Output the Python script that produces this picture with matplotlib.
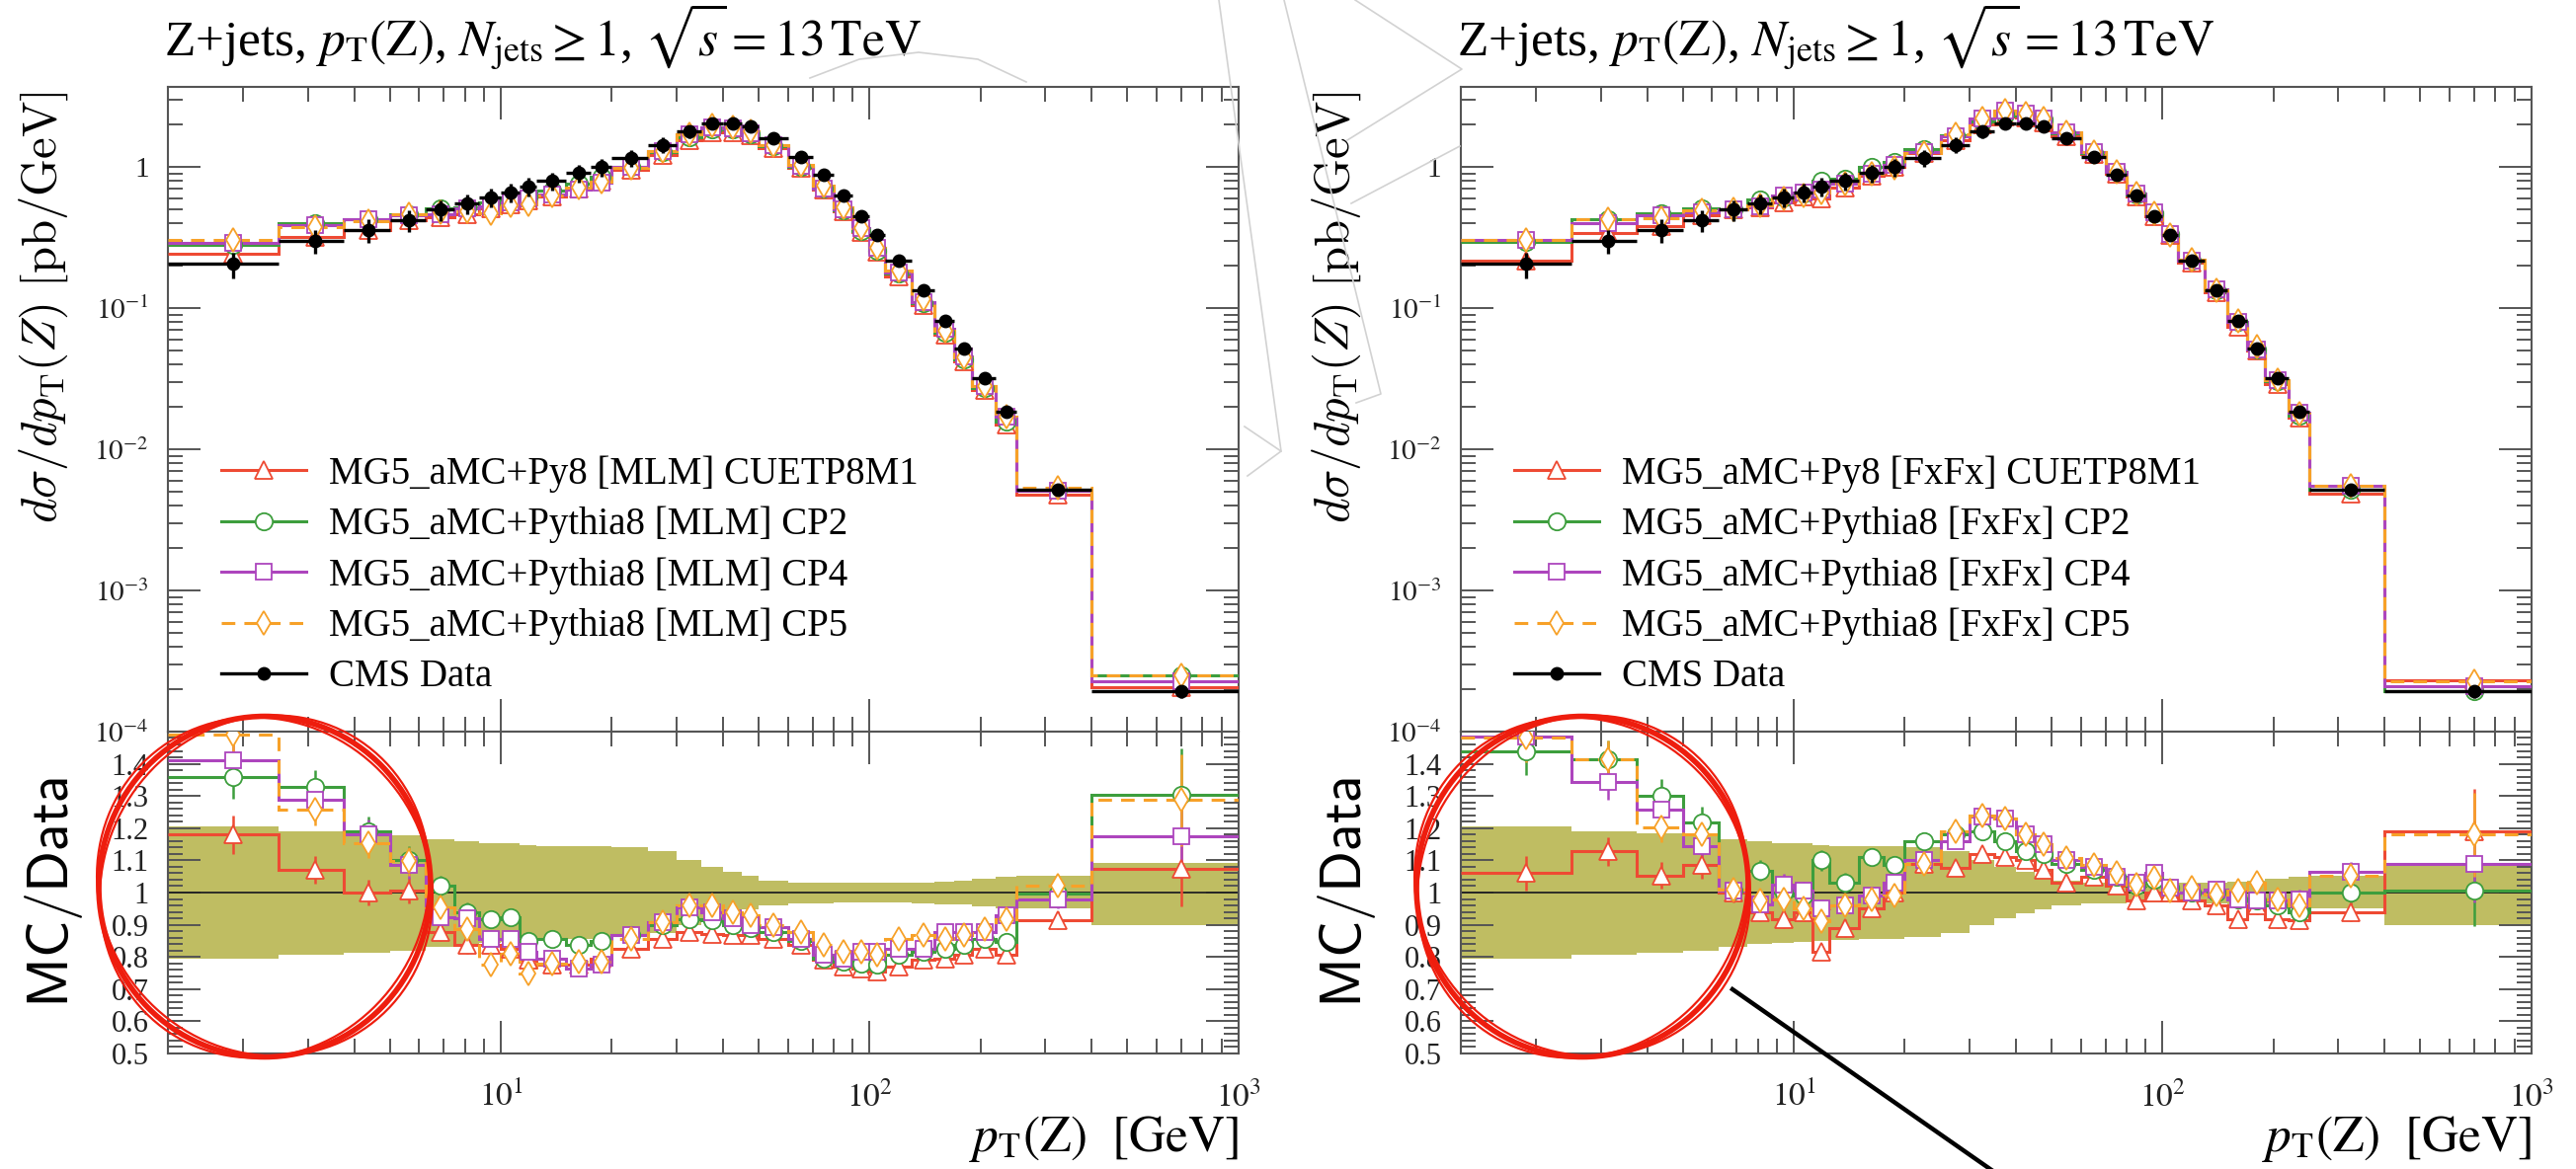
import numpy as np
import matplotlib
matplotlib.use("Agg")
import matplotlib.pyplot as plt
from matplotlib.lines import Line2D
from matplotlib.patches import Ellipse
from matplotlib.ticker import LogLocator, MultipleLocator, NullFormatter

plt.rcParams['font.family'] = ['Liberation Serif', 'DejaVu Serif']
plt.rcParams['mathtext.fontset'] = 'stix'

# pT(Z) binning [GeV]
edges = [1.25, 2.5, 3.75, 5.0, 6.25, 7.5, 8.75, 10.0, 11.25, 12.5, 15.0,
         17.5, 20.0, 25.0, 30.0, 35.0, 40.0, 45.0, 50.0, 60.0, 70.0, 80.0,
         90.0, 100.0, 110.0, 130.0, 150.0, 170.0, 190.0, 220.0, 250.0,
         400.0, 1000.0]

# CMS data, dsigma/dpT [pb/GeV]
cms_data = [0.206, 0.30, 0.36, 0.42, 0.50, 0.55, 0.61, 0.66, 0.73, 0.80,
            0.91, 1.0, 1.16, 1.43, 1.78, 2.04, 2.04, 1.93, 1.60, 1.18,
            0.88, 0.63, 0.45, 0.33, 0.217, 0.134, 0.081, 0.052, 0.0318,
            0.0185, 0.0052, 0.000193]

# data uncertainty band (ratio units)
band_up = [1.205, 1.19, 1.185, 1.178, 1.165, 1.158, 1.152, 1.152, 1.147,
           1.145, 1.145, 1.143, 1.14, 1.13, 1.10, 1.08, 1.063, 1.052, 1.038,
           1.032, 1.03, 1.03, 1.03, 1.03, 1.03, 1.032, 1.035, 1.038, 1.042,
           1.05, 1.052, 1.093]
band_lo = [0.795, 0.808, 0.812, 0.82, 0.832, 0.84, 0.845, 0.848, 0.85,
           0.852, 0.855, 0.857, 0.862, 0.875, 0.898, 0.92, 0.937, 0.948,
           0.96, 0.965, 0.967, 0.968, 0.968, 0.968, 0.968, 0.966, 0.964,
           0.962, 0.958, 0.952, 0.95, 0.898]

# relative MC statistical uncertainty
mc_stat = [0.05, 0.04, 0.04, 0.04, 0.03, 0.03, 0.03, 0.03, 0.03, 0.03,
           0.02, 0.02, 0.02, 0.02, 0.02, 0.02, 0.02, 0.02, 0.02, 0.02,
           0.02, 0.02, 0.02, 0.02, 0.02, 0.02, 0.02, 0.03, 0.03, 0.03,
           0.03, 0.11]

# MC / data, MLM merging
mlm_cuetp8m1 = [1.18, 1.07, 1.00, 1.005, 0.877, 0.836, 0.836, 0.826, 0.79,
                0.775, 0.775, 0.795, 0.826, 0.857, 0.877, 0.87, 0.867,
                0.867, 0.857, 0.836, 0.79, 0.77, 0.765, 0.755, 0.77, 0.79,
                0.795, 0.806, 0.826, 0.806, 0.913, 1.074]
mlm_cp2 = [1.358, 1.327, 1.19, 1.10, 1.02, 0.94, 0.918, 0.923, 0.85, 0.857,
           0.836, 0.85, 0.867, 0.898, 0.918, 0.913, 0.90, 0.89, 0.877, 0.85,
           0.795, 0.785, 0.78, 0.775, 0.806, 0.816, 0.826, 0.836, 0.857,
           0.847, 0.998, 1.305]
mlm_cp4 = [1.41, 1.287, 1.18, 1.087, 0.923, 0.92, 0.857, 0.857, 0.816,
           0.795, 0.765, 0.775, 0.867, 0.908, 0.954, 0.94, 0.92, 0.90,
           0.893, 0.857, 0.806, 0.795, 0.816, 0.816, 0.826, 0.826, 0.877,
           0.877, 0.877, 0.928, 0.98, 1.174]
mlm_cp5 = [1.49, 1.258, 1.153, 1.097, 0.954, 0.887, 0.775, 0.81, 0.75, 0.78,
           0.785, 0.785, 0.857, 0.908, 0.96, 0.96, 0.94, 0.93, 0.898, 0.877,
           0.836, 0.816, 0.816, 0.806, 0.857, 0.867, 0.857, 0.867, 0.887,
           0.918, 1.02, 1.287]

# MC / data, FxFx merging
fxfx_cuetp8m1 = [1.06, 1.128, 1.053, 1.087, 1.0, 0.939, 0.918, 0.94, 0.816,
                 0.89, 0.95, 1.0, 1.09, 1.077, 1.12, 1.11, 1.10, 1.07, 1.03,
                 1.05, 1.02, 0.975, 1.0, 1.0, 0.975, 0.96, 0.918, 0.96,
                 0.918, 0.913, 0.94, 1.19]
fxfx_cp2 = [1.437, 1.415, 1.30, 1.217, 1.005, 1.068, 1.0, 0.99, 1.10, 1.03,
            1.11, 1.085, 1.16, 1.18, 1.19, 1.16, 1.13, 1.12, 1.09, 1.07,
            1.05, 1.02, 1.04, 1.015, 1.0, 1.0, 0.98, 0.975, 0.96, 0.94, 1.0,
            1.005]
fxfx_cp4 = [1.483, 1.343, 1.258, 1.143, 1.005, 0.964, 1.026, 1.005, 0.95,
            0.96, 0.99, 1.03, 1.10, 1.16, 1.237, 1.23, 1.18, 1.15, 1.10,
            1.08, 1.05, 1.03, 1.06, 1.015, 1.0, 1.01, 0.98, 0.975, 0.975,
            0.98, 1.063, 1.09]
fxfx_cp5 = [1.48, 1.415, 1.203, 1.18, 1.01, 0.974, 0.98, 0.95, 0.91, 0.96,
            0.98, 0.99, 1.09, 1.19, 1.24, 1.23, 1.18, 1.15, 1.107, 1.087,
            1.06, 1.026, 1.046, 1.005, 1.015, 0.995, 1.005, 1.03, 0.98, 0.96,
            1.053, 1.18]

mlm_labels = ["MG5_aMC+Py8 [MLM] CUETP8M1", "MG5_aMC+Pythia8 [MLM] CP2",
              "MG5_aMC+Pythia8 [MLM] CP4", "MG5_aMC+Pythia8 [MLM] CP5"]
fxfx_labels = ["MG5_aMC+Py8 [FxFx] CUETP8M1", "MG5_aMC+Pythia8 [FxFx] CP2",
               "MG5_aMC+Pythia8 [FxFx] CP4", "MG5_aMC+Pythia8 [FxFx] CP5"]
data_label = "CMS Data"

title = (r"Z+jets, $p_{\mathrm{T}}(\mathrm{Z})$, $N_{\mathrm{jets}} \geq 1$, "
         r"$\sqrt{s}=13\,\mathrm{TeV}$")

x_ticks = [10, 100, 1000]
x_ticklabels = [r"$10^{1}$", r"$10^{2}$", r"$10^{3}$"]
y_ticks = [1e-4, 1e-3, 1e-2, 1e-1, 1]
y_ticklabels = [r"$10^{-4}$", r"$10^{-3}$", r"$10^{-2}$", r"$10^{-1}$", "1"]
r_ticks = [0.5, 0.6, 0.7, 0.8, 0.9, 1.0, 1.1, 1.2, 1.3, 1.4]
r_ticklabels = ["0.5", "0.6", "0.7", "0.8", "0.9", "1", "1.1", "1.2", "1.3",
                "1.4"]

colors = ['#ee4a33', '#3d9e3d', '#ad45bd', '#f7a128']
markers = ['^', 'o', 's', 'd']
msizes = [13.5, 12.5, 11.5, 12]
lstyles = ['-', '-', '-', (0, (4.5, 3))]
band_color = '#bfbd62'
axis_grey = '#555555'

W, H = 2608, 1184


def style_axes(ax):
    ax.set_xscale('log')
    ax.set_xlim(edges[0], edges[-1])
    ax.tick_params(which='both', direction='in', top=True, right=True,
                   color=axis_grey, width=1.4, labelcolor='#222222')
    ax.tick_params(which='major', length=24)
    ax.tick_params(which='minor', length=11)
    ax.xaxis.set_minor_locator(LogLocator(base=10, subs=np.arange(2, 10)))
    ax.xaxis.set_minor_formatter(NullFormatter())
    for s in ax.spines.values():
        s.set_color(axis_grey)
        s.set_linewidth(1.5)


def draw_panel(x0, ratios, labels):
    ax_top = fig.add_axes([x0, 0.3742, 0.4155, 0.5515])
    ax_rat = fig.add_axes([x0, 0.0988, 0.4155, 0.2754])
    for ax in (ax_top, ax_rat):
        style_axes(ax)

    lo = np.array(edges[:-1])
    hi = np.array(edges[1:])
    centers = 0.5 * (lo + hi)
    data = np.array(cms_data)
    up = np.array(band_up)
    dn = np.array(band_lo)
    err = np.array(mc_stat)

    ax_rat.stairs(up, edges, baseline=dn, fill=True, color=band_color,
                  lw=0, zorder=1)
    ax_rat.axhline(1.0, color='#222222', lw=1.3, zorder=2)

    handles = []
    for r, c, m, ms, ls in zip(ratios, colors, markers, msizes, lstyles):
        r = np.array(r)
        ax_top.stairs(r * data, edges, baseline=None, color=c, lw=2.2,
                      linestyle=ls, zorder=3)
        ax_top.plot(centers, r * data, ls='none', marker=m, ms=ms, mfc='white',
                    mec=c, mew=1.3, zorder=4)
        ax_rat.stairs(r, edges, baseline=None, color=c, lw=2.2,
                      linestyle=ls, zorder=3)
        ax_rat.errorbar(centers, r, yerr=r * err, fmt=m, ms=ms, mfc='white',
                        mec=c, mew=1.3, ecolor=c, elinewidth=1.8, capsize=0,
                        zorder=4)
        handles.append(Line2D([], [], color=c, lw=2.2, ls=ls, marker=m, ms=ms,
                              mfc='white', mec=c, mew=1.3))

    ax_top.errorbar(centers, data, xerr=[centers - lo, hi - centers],
                    yerr=[data * (1 - dn), data * (up - 1)], fmt='o',
                    color='black', ms=9, lw=2.4, capsize=0, zorder=6)
    handles.append(Line2D([], [], color='black', lw=2.4, marker='o', ms=9))

    ax_top.set_yscale('log')
    ax_top.set_ylim(1e-4, 3.7)
    ax_top.set_yticks(y_ticks, y_ticklabels)
    ax_top.yaxis.set_minor_locator(LogLocator(base=10, subs=np.arange(2, 10)))
    ax_top.yaxis.set_minor_formatter(NullFormatter())
    ax_top.set_xticks(x_ticks)
    ax_top.tick_params(labelbottom=False, labelsize=21, pad=14)

    ax_rat.set_ylim(0.5, 1.5)
    ax_rat.set_yticks(r_ticks, r_ticklabels)
    ax_rat.yaxis.set_minor_locator(MultipleLocator(0.02))
    ax_rat.set_xticks(x_ticks, x_ticklabels)
    ax_rat.tick_params(axis='y', labelsize=22, pad=14)
    ax_rat.tick_params(axis='x', labelsize=24, pad=20)

    ax_top.text(-0.004, 1.047, title, transform=ax_top.transAxes,
                ha='left', va='baseline', fontsize=37)
    ax_top.text(-0.116, 0.994, r"$d\sigma/dp_{\mathrm{T}}(Z)\ [\mathrm{pb/GeV}]$",
                transform=ax_top.transAxes, rotation=90, ha='center',
                va='top', fontsize=35, math_fontfamily='cm')
    ax_rat.text(-0.107, 0.5, r"$\mathsf{MC/Data}$", transform=ax_rat.transAxes,
                rotation=90, ha='center', va='center', fontsize=42,
                math_fontfamily='cm')
    ax_rat.text(1.0, -0.305, r"$p_{\mathrm{T}}(\mathrm{Z})\ \ [\mathrm{GeV}]$",
                transform=ax_rat.transAxes, ha='right', va='baseline',
                fontsize=37)

    ax_top.legend(handles, labels + [data_label], loc='upper left',
                  bbox_to_anchor=(0.05, 0.428), frameon=False, fontsize=28,
                  handlelength=2.2, handletextpad=0.6, labelspacing=0.36,
                  borderpad=0, borderaxespad=0, numpoints=1)
    return ax_top, ax_rat


fig = plt.figure(figsize=(W / 100, H / 100), dpi=100)

draw_panel(0.0652, [mlm_cuetp8m1, mlm_cp2, mlm_cp4, mlm_cp5], mlm_labels)
draw_panel(0.5671, [fxfx_cuetp8m1, fxfx_cp2, fxfx_cp4, fxfx_cp5], fxfx_labels)


def fpx(x, y):
    return x / W, 1 - y / H


# faint grey sketch lines in the background of the screenshot
sketch = [
    [(820, 79), (870, 60), (930, 53), (990, 60), (1039, 83)],
    [(1234, 0), (1297, 457)],
    [(1260, 432), (1297, 457), (1263, 482)],
    [(1300, 0), (1398, 399), (1373, 408)],
    [(1372, 0), (1480, 70), (1364, 142)],
    [(1478, 148), (1368, 206)],
]
for pts in sketch:
    xs, ys = zip(*[fpx(*p) for p in pts])
    fig.add_artist(Line2D(xs, ys, transform=fig.transFigure, color='#d2d2d2',
                          lw=1.2, zorder=10))

# red hand-drawn circles
for cx in (268, 1602):
    for dw, dh, ang, lw in [(0, 0, 0, 4.0), (3, -2, 2, 1.6), (-3, 2, -2, 1.6)]:
        ex, ey = fpx(cx, 898)
        fig.add_artist(Ellipse((ex, ey), (336 + dw) / W, (345 + dh) / H,
                               angle=ang, transform=fig.transFigure,
                               fill=False, ec='#ee1d0e', lw=lw, zorder=11))

# black pointer line
lx, ly = zip(fpx(1754, 1002), fpx(2032, 1196))
fig.add_artist(Line2D(lx, ly, transform=fig.transFigure, color='black',
                      lw=3.2, zorder=11))

fig.savefig('out.png', dpi=100)
